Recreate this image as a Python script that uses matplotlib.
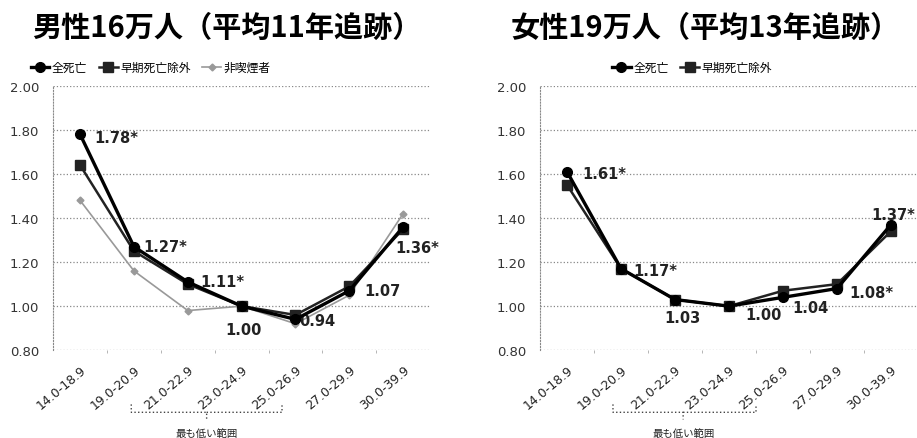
import matplotlib
matplotlib.use("Agg")
import matplotlib.pyplot as plt
from matplotlib.path import Path
import matplotlib.patches as patches
import matplotlib.transforms as mtransforms

plt.rcParams['font.family'] = ['Noto Sans CJK JP', 'DejaVu Sans']

bmi_ranges = ["14.0-18.9", "19.0-20.9", "21.0-22.9", "23.0-24.9",
              "25.0-26.9", "27.0-29.9", "30.0-39.9"]

# 男性
male_all = [1.78, 1.27, 1.11, 1.00, 0.94, 1.07, 1.36]
male_excl = [1.64, 1.25, 1.10, 1.00, 0.96, 1.09, 1.35]
male_nonsmoker = [1.48, 1.16, 0.98, 1.00, 0.92, 1.05, 1.42]
male_labels = ["1.78*", "1.27*", "1.11*", "1.00", "0.94", "1.07", "1.36*"]
male_offsets = [(10, -2), (7, 0), (9, 0), (-12, -17), (3, -1), (11, 0), (-6, -15)]

# 女性
female_all = [1.61, 1.17, 1.03, 1.00, 1.04, 1.08, 1.37]
female_excl = [1.55, 1.17, 1.03, 1.00, 1.07, 1.10, 1.34]
female_labels = ["1.61*", "1.17*", "1.03", "1.00", "1.04", "1.08*", "1.37*"]
female_offsets = [(11, -1), (9, -1), (-8, -13), (12, -6), (7, -7), (9, -3), (-14, 7)]

legend_names = ["全死亡", "早期死亡除外", "非喫煙者"]
bracket_text = "最も低い範囲"

fig = plt.figure(figsize=(9.17, 4.39), dpi=100)
ax_m = fig.add_axes([0.058, 0.200, 0.411, 0.602])
ax_f = fig.add_axes([0.589, 0.200, 0.412, 0.602])


def style_axes(ax):
    ax.set_ylim(0.8, 2.0)
    ax.set_xlim(-0.5, len(bmi_ranges) - 0.5)
    ax.set_yticks([0.8, 1.0, 1.2, 1.4, 1.6, 1.8, 2.0])
    ax.set_yticklabels(["%.2f" % v for v in ax.get_yticks()], fontsize=9.5,
                       color="#333333", family="DejaVu Sans")
    ax.set_xticks(range(len(bmi_ranges)))
    ax.set_xticklabels(bmi_ranges, rotation=40, ha="right", rotation_mode="anchor",
                       fontsize=9, color="#222222", family="DejaVu Sans")
    ax.set_xticks([i + 0.5 for i in range(len(bmi_ranges) - 1)], minor=True)
    ax.tick_params(axis="both", which="major", length=0)
    ax.tick_params(axis="y", pad=10)
    ax.tick_params(axis="x", pad=9)
    ax.tick_params(axis="x", which="minor", length=2, color="#aaaaaa", direction="out")
    ax.grid(axis="y", linestyle=":", color="#888888", linewidth=0.9)
    for side in ["top", "right"]:
        ax.spines[side].set_visible(False)
    ax.spines["left"].set_linestyle(":")
    ax.spines["left"].set_color("#888888")
    ax.spines["bottom"].set_visible(False)


def draw_brace(ax, x0, x1, xm, y_top, y_tip, label):
    trans = mtransforms.blended_transform_factory(ax.transData, ax.transAxes)
    verts = [(x0, y_top + 0.03), (x0, y_top), (x0, y_top), (x0 + 0.2, y_top),
             (xm - 0.15, y_top), (xm, y_top), (xm, y_top), (xm, y_tip),
             (xm, y_top), (xm, y_top), (xm + 0.15, y_top),
             (x1 - 0.2, y_top), (x1, y_top), (x1, y_top), (x1, y_top + 0.03)]
    codes = [Path.MOVETO, Path.CURVE3, Path.CURVE3, Path.LINETO,
             Path.LINETO, Path.CURVE3, Path.CURVE3, Path.LINETO,
             Path.MOVETO, Path.CURVE3, Path.CURVE3,
             Path.LINETO, Path.CURVE3, Path.CURVE3, Path.LINETO]
    ax.add_patch(patches.PathPatch(Path(verts, codes), transform=trans, fill=False,
                                   linestyle=":", linewidth=1.0, edgecolor="#444444",
                                   clip_on=False))
    ax.text(xm, y_tip - 0.05, label, transform=trans, ha="center", va="center",
            fontsize=7.5, color="#222222")


style_axes(ax_m)
style_axes(ax_f)

x = range(len(bmi_ranges))
ax_m.plot(x, male_all, color="black", linewidth=2.4, marker="o", markersize=7,
          label=legend_names[0], zorder=4)
ax_m.plot(x, male_excl, color="#222222", linewidth=1.8, marker="s", markersize=6.5,
          label=legend_names[1], zorder=3)
ax_m.plot(x, male_nonsmoker, color="#999999", linewidth=1.2, marker="D", markersize=3.5,
          label=legend_names[2], zorder=2)
for i, (v, t, off) in enumerate(zip(male_all, male_labels, male_offsets)):
    ax_m.annotate(t, (i, v), xytext=off, textcoords="offset points", fontsize=10.5,
                  fontweight="bold", color="#222222", family="DejaVu Sans",
                  va="center", ha="left")

ax_f.plot(x, female_all, color="black", linewidth=2.4, marker="o", markersize=7,
          label=legend_names[0], zorder=4)
ax_f.plot(x, female_excl, color="#222222", linewidth=1.8, marker="s", markersize=6.5,
          label=legend_names[1], zorder=3)
for i, (v, t, off) in enumerate(zip(female_all, female_labels, female_offsets)):
    ax_f.annotate(t, (i, v), xytext=off, textcoords="offset points", fontsize=10.5,
                  fontweight="bold", color="#222222", family="DejaVu Sans",
                  va="center", ha="left")

ax_m.legend(loc="lower left", bbox_to_anchor=(-0.06, 1.045), ncol=3, frameon=False,
            fontsize=8.5, handlelength=1.6, columnspacing=1.0, handletextpad=0.2,
            borderaxespad=0, borderpad=0)
ax_f.legend(loc="lower left", bbox_to_anchor=(0.19, 1.045), ncol=2, frameon=False,
            fontsize=8.5, handlelength=1.6, columnspacing=1.0, handletextpad=0.2,
            borderaxespad=0, borderpad=0)

draw_brace(ax_m, 0.95, 3.75, 2.35, -0.235, -0.262, bracket_text)
draw_brace(ax_f, 0.85, 3.5, 2.15, -0.235, -0.262, bracket_text)

fig.text(0.247, 0.936, "男性16万人（平均11年追跡）", ha="center", va="center",
         fontsize=21, fontweight="bold")
fig.text(0.769, 0.936, "女性19万人（平均13年追跡）", ha="center", va="center",
         fontsize=21, fontweight="bold")

fig.savefig("out.png", dpi=100)
